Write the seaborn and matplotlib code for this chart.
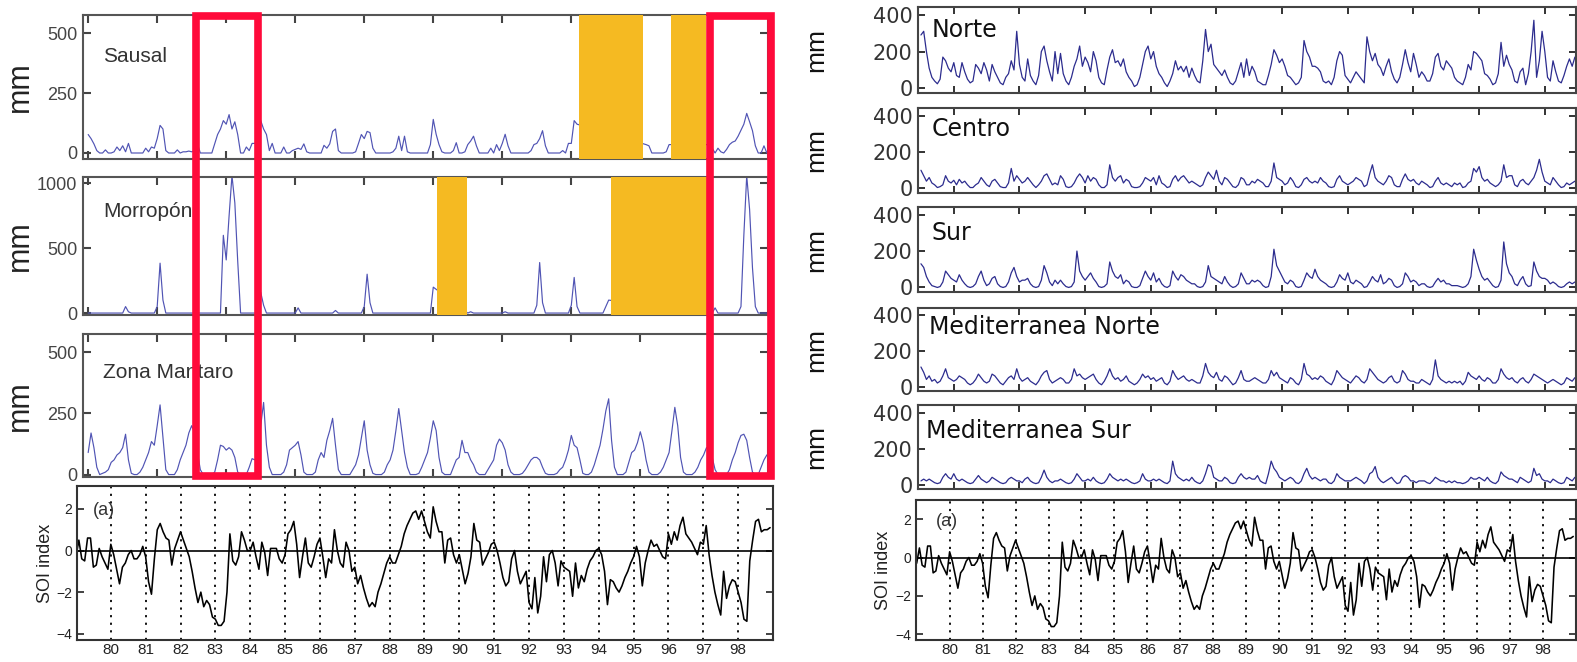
import numpy as np
import pandas as pd
import matplotlib
matplotlib.use("Agg")
import matplotlib.pyplot as plt
import matplotlib.transforms as mtransforms
from matplotlib.patches import Rectangle
import seaborn as sns

nan = np.nan

# ==========================================================
# Data - monthly values, Jan 1979 .. Dec 1998 (one row per year)
# ==========================================================

# Peru stations (mm)
sausal = [
    77, 60, 38, 10, 0, 0, 13, 0, 0, 5, 25, 10,
    30, 5, 40, 0, 0, 0, 0, 0, 20, 5, 25, 20,
    60, 115, 100, 10, 0, 0, 0, 13, 0, 5, 5, 8,
    5, 10, 38, 0, 0, 0, 0, 0, 38, 77, 100, 135,
    120, 160, 100, 130, 77, 0, 0, 25, 10, 40, 40, 30,
    135, 100, 77, 10, 40, 0, 0, 0, 25, 0, 0, 10,
    15, 20, 15, 38, 5, 0, 0, 0, 0, 0, 32, 20,
    38, 90, 100, 10, 0, 0, 0, 0, 0, 5, 40, 77,
    60, 90, 85, 20, 0, 0, 0, 0, 0, 0, 5, 20,
    70, 10, 70, 5, 0, 0, 0, 0, 0, 0, 0, 35,
    140, 78, 35, 5, 0, 0, 0, 10, 43, 0, 0, 5,
    35, 50, 70, 30, 0, 0, 0, 0, 20, 0, 35, 10,
    40, 78, 30, 0, 0, 0, 0, 0, 0, 0, 10, 35,
    40, 60, 93, 30, 0, 0, 0, 0, 0, 10, 0, 40,
    40, 135, 120, nan, nan, nan, nan, nan, nan, nan, nan, nan,
    nan, nan, nan, nan, nan, nan, nan, nan, nan, nan, nan, nan,
    nan, nan, 35, 30, 0, 0, 0, 0, 0, 5, 35, nan,
    nan, nan, nan, nan, nan, nan, nan, nan, nan, nan, nan, nan,
    35, 20, 0, 20, 5, 0, 15, 35, 45, 50, 70, 95,
    120, 165, 130, 93, 30, 0, 0, 30, 0, 0, 0, 0,
]

morropon = [
    0, 0, 0, 0, 0, 0, 0, 0, 0, 0, 0, 0,
    0, 50, 10, 0, 0, 0, 0, 0, 0, 0, 0, 0,
    50, 385, 100, 0, 0, 0, 0, 0, 0, 0, 0, 0,
    0, 0, 0, 0, 0, 0, 0, 0, 0, 0, 0, 600,
    410, 750, 1060, 850, 400, 0, 0, 0, 0, 0, 0, 0,
    160, 60, 0, 0, 0, 0, 0, 0, 0, 0, 0, 0,
    0, 40, 0, 0, 0, 0, 0, 0, 0, 0, 0, 0,
    0, 0, 20, 0, 0, 0, 0, 0, 0, 0, 0, 0,
    50, 300, 80, 0, 0, 0, 0, 0, 0, 0, 0, 0,
    0, 0, 0, 0, 0, 0, 0, 0, 0, 0, 0, 0,
    200, nan, nan, nan, nan, nan, nan, nan, nan, nan, nan, nan,
    0, 10, 0, 0, 0, 0, 0, 0, 0, 0, 0, 0,
    0, 10, 0, 0, 0, 0, 0, 0, 0, 0, 0, 0,
    60, 390, 80, 0, 0, 0, 0, 0, 0, 0, 0, 0,
    60, 275, 50, 0, 0, 0, 0, 0, 0, 0, 0, 0,
    50, 100, nan, nan, nan, nan, nan, nan, nan, nan, nan, nan,
    nan, nan, nan, nan, nan, nan, nan, nan, nan, nan, nan, nan,
    nan, nan, nan, nan, nan, nan, nan, nan, nan, nan, nan, nan,
    0, 0, 40, 0, 0, 0, 0, 0, 0, 0, 0, 50,
    600, 1060, 800, 350, 50, 0, 0, 0, 0, 0, 0, 0,
]

mantaro = [
    90, 170, 110, 30, 0, 5, 10, 20, 50, 60, 80, 90,
    110, 165, 60, 5, 0, 0, 10, 30, 60, 90, 135, 120,
    200, 285, 150, 20, 0, 0, 0, 20, 60, 90, 120, 170,
    200, 170, 90, 20, 0, 0, 0, 0, 10, 60, 120, 115,
    100, 110, 100, 70, 10, 0, 0, 0, 30, 65, 60, 70,
    200, 295, 120, 30, 0, 0, 0, 0, 10, 40, 100, 110,
    120, 135, 80, 10, 0, 0, 0, 10, 60, 90, 70, 140,
    180, 230, 120, 20, 0, 0, 0, 0, 20, 40, 80, 150,
    220, 100, 40, 5, 0, 0, 0, 10, 40, 60, 100, 180,
    270, 180, 90, 30, 0, 0, 0, 5, 30, 60, 90, 150,
    220, 180, 70, 10, 0, 0, 0, 30, 60, 70, 140, 90,
    90, 60, 40, 10, 0, 0, 0, 20, 40, 60, 120, 145,
    130, 100, 40, 10, 0, 0, 0, 5, 20, 40, 60, 70,
    70, 60, 30, 5, 0, 0, 0, 5, 20, 30, 60, 100,
    160, 120, 110, 60, 5, 0, 0, 10, 40, 80, 120, 185,
    260, 310, 140, 30, 0, 0, 0, 10, 50, 90, 100, 130,
    175, 130, 60, 10, 0, 0, 0, 10, 30, 60, 90, 180,
    275, 200, 70, 10, 0, 0, 0, 10, 30, 60, 80, 110,
    100, 70, 20, 0, 0, 0, 0, 20, 60, 90, 130, 160,
    165, 140, 70, 10, 0, 0, 30, 60, 80, 90, 100, 110,
]

# Spain regions (mm)
norte = [
    290, 310, 200, 110, 60, 40, 25, 50, 170, 150, 110, 90,
    140, 70, 60, 140, 90, 50, 30, 40, 130, 110, 80, 140,
    100, 40, 130, 90, 60, 30, 20, 60, 80, 150, 100, 310,
    130, 60, 40, 160, 70, 40, 20, 70, 200, 230, 150, 90,
    40, 200, 80, 190, 80, 40, 20, 60, 120, 160, 230, 120,
    170, 140, 90, 200, 150, 60, 30, 20, 100, 170, 210, 140,
    150, 120, 160, 90, 60, 40, 10, 20, 60, 130, 200, 230,
    160, 200, 120, 80, 60, 30, 10, 40, 80, 150, 100, 120,
    90, 120, 60, 110, 70, 40, 30, 150, 320, 200, 240, 130,
    110, 90, 70, 100, 60, 30, 20, 40, 90, 140, 60, 160,
    70, 120, 90, 40, 30, 20, 20, 70, 130, 210, 180, 140,
    160, 120, 70, 60, 40, 20, 30, 60, 260, 200, 170, 120,
    120, 110, 90, 40, 30, 40, 20, 60, 150, 200, 180, 70,
    50, 30, 60, 90, 70, 50, 30, 280, 200, 150, 190, 130,
    110, 70, 120, 160, 90, 50, 30, 60, 130, 210, 140, 90,
    190, 130, 60, 90, 70, 40, 40, 80, 170, 190, 120, 100,
    150, 130, 110, 60, 40, 30, 20, 60, 130, 100, 200, 190,
    170, 150, 80, 70, 50, 20, 30, 80, 250, 120, 180, 130,
    100, 40, 30, 90, 110, 20, 80, 200, 370, 60, 150, 310,
    200, 60, 40, 150, 90, 40, 30, 70, 120, 160, 120, 170,
]

centro = [
    100, 70, 40, 60, 30, 20, 5, 10, 20, 70, 40, 30,
    45, 20, 50, 30, 40, 20, 5, 5, 20, 30, 60, 40,
    20, 10, 40, 50, 30, 10, 5, 5, 30, 110, 40, 70,
    50, 30, 40, 60, 40, 20, 5, 20, 40, 70, 80, 50,
    20, 30, 20, 70, 50, 10, 5, 10, 30, 60, 80, 60,
    30, 70, 40, 60, 50, 20, 5, 5, 20, 130, 60, 40,
    60, 70, 30, 50, 40, 10, 5, 5, 10, 30, 60, 50,
    40, 60, 20, 70, 30, 20, 5, 10, 50, 70, 40, 60,
    70, 50, 30, 40, 30, 20, 10, 20, 60, 90, 70, 50,
    100, 40, 20, 60, 50, 30, 10, 5, 20, 60, 50, 20,
    20, 40, 30, 50, 40, 30, 10, 10, 40, 140, 60, 50,
    40, 20, 30, 60, 40, 10, 5, 20, 50, 60, 40, 30,
    40, 30, 60, 40, 30, 10, 5, 10, 50, 70, 40, 30,
    20, 30, 40, 60, 50, 40, 10, 20, 80, 130, 60, 40,
    30, 20, 40, 70, 60, 20, 10, 10, 50, 80, 50, 40,
    50, 30, 20, 40, 30, 20, 5, 10, 40, 60, 30, 20,
    30, 20, 10, 30, 20, 30, 5, 10, 30, 40, 110, 90,
    120, 60, 40, 50, 30, 20, 10, 20, 40, 130, 60, 70,
    70, 20, 10, 40, 50, 30, 20, 40, 60, 100, 160, 90,
    40, 30, 20, 60, 40, 20, 5, 10, 30, 20, 30, 40,
]

sur = [
    130, 110, 60, 30, 10, 5, 0, 5, 30, 90, 70, 50,
    40, 30, 70, 40, 20, 5, 0, 5, 20, 60, 90, 40,
    10, 20, 50, 60, 20, 5, 0, 5, 30, 80, 110, 60,
    30, 40, 40, 50, 20, 5, 0, 5, 40, 120, 80, 30,
    10, 40, 20, 40, 20, 5, 0, 5, 30, 200, 90, 60,
    40, 60, 80, 50, 30, 5, 0, 5, 20, 140, 90, 60,
    50, 70, 20, 40, 30, 5, 0, 0, 10, 50, 90, 60,
    40, 80, 30, 50, 20, 5, 0, 10, 90, 60, 40, 70,
    60, 40, 30, 20, 20, 5, 0, 5, 30, 120, 60, 50,
    40, 30, 20, 60, 30, 10, 0, 5, 20, 80, 50, 20,
    20, 40, 30, 40, 30, 10, 0, 5, 60, 210, 120, 90,
    60, 30, 20, 40, 30, 5, 0, 5, 40, 80, 60, 50,
    100, 60, 40, 30, 20, 5, 0, 5, 30, 70, 50, 40,
    80, 30, 20, 40, 30, 20, 0, 5, 30, 60, 40, 30,
    70, 20, 30, 50, 40, 10, 0, 5, 20, 80, 60, 30,
    40, 30, 10, 20, 20, 5, 0, 5, 30, 50, 30, 40,
    20, 20, 10, 10, 10, 5, 0, 5, 20, 60, 210, 150,
    100, 60, 40, 50, 30, 10, 0, 5, 40, 250, 130, 80,
    60, 20, 10, 40, 60, 20, 5, 10, 140, 90, 60, 50,
    50, 40, 20, 30, 20, 5, 0, 5, 20, 30, 20, 30,
]

med_norte = [
    110, 80, 40, 60, 30, 40, 20, 30, 60, 100, 50, 40,
    30, 40, 60, 50, 40, 20, 10, 20, 40, 70, 50, 30,
    20, 30, 70, 60, 40, 20, 10, 30, 50, 60, 40, 100,
    50, 30, 40, 50, 30, 20, 10, 30, 60, 80, 90, 40,
    20, 30, 40, 50, 40, 20, 20, 40, 100, 60, 70, 50,
    40, 50, 60, 70, 40, 20, 10, 30, 60, 100, 60, 40,
    50, 30, 40, 60, 30, 20, 10, 20, 40, 70, 50, 60,
    40, 50, 30, 40, 50, 20, 10, 30, 90, 60, 40, 50,
    60, 40, 30, 40, 30, 20, 20, 60, 130, 80, 60, 50,
    80, 40, 30, 60, 50, 30, 10, 20, 50, 90, 40, 30,
    30, 40, 50, 40, 30, 20, 20, 40, 90, 60, 80, 50,
    40, 30, 20, 50, 40, 20, 10, 40, 130, 70, 60, 40,
    50, 40, 60, 50, 30, 20, 10, 40, 90, 70, 50, 40,
    30, 20, 40, 60, 50, 30, 20, 40, 100, 80, 60, 40,
    30, 20, 30, 50, 60, 30, 20, 30, 90, 70, 40, 30,
    30, 20, 20, 40, 30, 20, 10, 40, 150, 60, 40, 30,
    20, 30, 20, 30, 20, 30, 10, 30, 80, 60, 50, 40,
    60, 40, 30, 50, 40, 20, 20, 40, 100, 70, 50, 40,
    50, 30, 20, 40, 50, 30, 20, 40, 70, 60, 50, 40,
    30, 20, 30, 40, 30, 20, 10, 20, 50, 40, 30, 50,
]

med_sur = [
    20, 30, 20, 30, 20, 10, 5, 10, 40, 60, 40, 30,
    60, 30, 20, 30, 20, 10, 5, 10, 30, 50, 30, 20,
    10, 20, 40, 30, 20, 10, 5, 10, 30, 40, 30, 20,
    20, 10, 30, 40, 20, 10, 5, 10, 40, 80, 40, 20,
    10, 20, 20, 30, 20, 10, 5, 10, 30, 60, 40, 20,
    20, 30, 20, 40, 20, 10, 5, 10, 30, 60, 40, 30,
    20, 30, 20, 30, 20, 10, 5, 10, 20, 60, 30, 20,
    20, 30, 20, 30, 20, 10, 5, 20, 130, 60, 40, 30,
    20, 30, 20, 40, 20, 10, 5, 20, 60, 110, 100, 40,
    30, 20, 20, 40, 30, 10, 5, 10, 40, 60, 40, 30,
    40, 30, 30, 50, 20, 10, 5, 60, 130, 90, 70, 40,
    30, 20, 30, 40, 30, 10, 5, 20, 60, 90, 50, 30,
    40, 30, 20, 30, 30, 10, 5, 20, 60, 40, 30, 20,
    20, 20, 30, 40, 30, 20, 5, 20, 60, 70, 100, 40,
    20, 10, 20, 30, 40, 20, 5, 10, 40, 50, 40, 20,
    20, 10, 20, 20, 20, 10, 5, 20, 40, 30, 20, 20,
    10, 20, 10, 20, 10, 10, 5, 10, 20, 40, 30, 30,
    40, 30, 20, 40, 20, 10, 5, 20, 70, 50, 40, 30,
    30, 20, 10, 40, 30, 20, 10, 20, 90, 50, 60, 30,
    20, 20, 10, 30, 20, 10, 5, 10, 40, 30, 20, 40,
]

# Southern Oscillation Index
soi = [
    -0.3, 0.5, -0.4, -0.5, 0.6, 0.6, -0.8, -0.7, 0.1, -0.3, -0.6, -0.9,
    0.3, -0.2, -0.9, -1.6, -0.8, -0.6, -0.2, 0.0, -0.4, -0.4, -0.2, 0.2,
    -0.3, -1.5, -2.1, -0.4, 1.0, 1.3, 0.9, 0.6, 0.5, -0.7, 0.1, 0.5,
    0.9, 0.5, 0.1, -0.3, -1.0, -1.8, -2.5, -2.0, -2.7, -2.4, -2.6, -3.2,
    -3.3, -3.6, -3.6, -3.4, -2.0, 0.8, -0.5, -0.7, -0.3, 0.9, 0.5, 0.0,
    0.0, 0.4, -0.3, -0.9, 0.4, -0.1, -1.2, 0.1, 0.1, 0.1, -0.4, -0.6,
    -0.2, 0.8, 1.0, 1.4, 0.3, -1.3, -0.3, 0.6, -0.6, -0.8, -0.3, 0.3,
    0.6, -0.3, -1.3, -0.4, -0.6, 1.0, 0.0, -0.6, -0.8, 0.4, 0.0, -1.0,
    -0.8, -1.6, -1.2, -1.8, -2.3, -2.7, -2.5, -2.7, -2.0, -1.6, -1.1, -0.6,
    -0.3, -0.6, -0.6, -0.2, 0.2, 0.8, 1.2, 1.5, 1.8, 1.9, 1.5, 1.9,
    1.4, 0.9, 0.6, 2.1, 1.4, 0.9, 0.9, -0.6, 0.5, 0.6, -0.2, -0.6,
    -0.2, -0.9, -1.6, -1.1, -0.3, 1.3, 0.5, 0.4, -0.7, -0.4, -0.1, 0.3,
    0.4, 0.0, -0.6, -1.3, -1.7, -1.5, -0.4, 0.0, -1.0, -1.6, -1.3, -1.0,
    -2.5, -2.8, -1.3, -3.0, -2.2, -0.3, -1.5, -0.2, 0.0, -0.6, -1.7, -0.5,
    -0.8, -0.9, -1.0, -2.2, -0.6, -1.8, -1.2, -1.5, -0.9, -0.5, -0.3, 0.0,
    0.1, -0.2, -1.0, -2.6, -1.4, -1.5, -1.8, -2.0, -1.7, -1.3, -1.0, -0.6,
    -0.3, 0.2, -0.3, -1.7, -0.6, 0.0, 0.5, 0.2, 0.3, 0.0, -0.3, -0.4,
    0.8, 0.3, 0.9, 0.5, 1.2, 1.6, 0.8, 0.6, 0.4, 0.1, -0.2, 0.4,
    0.3, 1.2, -0.2, -1.2, -2.0, -2.6, -3.1, -1.0, -2.3, -1.7, -1.4, -1.5,
    -2.0, -2.5, -3.3, -3.4, -0.5, 0.5, 1.4, 1.5, 0.9, 1.0, 1.0, 1.1,
]

# Periods without data (shaded) and El Nino highlight boxes (years)
sausal_gaps = [(1993.21, 1995.09), (1995.90, 1996.91)]
morropon_gaps = [(1989.12, 1989.99), (1994.16, 1997.0)]
nino_boxes = [(1982.12, 1983.92), (1997.03, 1998.79)]

soi_years = list(range(1980, 1999))
soi_labels = [str(y)[2:] for y in soi_years]

months = pd.date_range("1979-01-01", periods=240, freq="MS")
t = np.asarray(months.year + (months.month - 1) / 12.0)

# ==========================================================
# Style
# ==========================================================

sns.set_theme(style="white")
plt.rcParams["font.family"] = ["Liberation Sans", "DejaVu Sans"]

LEFT_BLUE = "#5054b4"
RIGHT_BLUE = "#2c2c8e"
ORANGE = "#F5BA22"
RED = "#FF0A3A"

W, H = 1577, 662
fig = plt.figure(figsize=(W / 100, H / 100), dpi=100)
fig.patch.set_facecolor("white")


def px_axes(x0, y0, x1, y1):
    return fig.add_axes([x0 / W, 1 - y1 / H, (x1 - x0) / W, (y1 - y0) / H])


def style_spines(ax, color):
    for s in ax.spines.values():
        s.set_color(color)
        s.set_linewidth(1.5)


# ==========================================================
# Left column - Peru
# ==========================================================

left_specs = [
    (px_axes(83, 15, 768, 159), sausal, "Sausal", (-25, 575), [0, 250, 500], sausal_gaps, 0.71),
    (px_axes(83, 177, 768, 315), morropon, "Morropón", (-15, 1050), [0, 500, 1000], morropon_gaps, 0.75),
    (px_axes(83, 334, 768, 477), mantaro, "Zona Mantaro", (-10, 575), [0, 250, 500], [], 0.73),
]

for ax, vals, name, ylim, yt, gaps, ty in left_specs:
    df = pd.DataFrame({"year": t, "mm": vals})
    sns.lineplot(data=df, x="year", y="mm", ax=ax, color=LEFT_BLUE, lw=0.85)
    for a, b in gaps:
        ax.axvspan(a, b, color=ORANGE, lw=0, zorder=3)
    ax.set_xlim(1978.85, 1998.7)
    ax.set_xticks(range(1979, 1999, 2))
    ax.set_ylim(ylim)
    ax.set_yticks(yt)
    ax.tick_params(direction="in", length=6, width=1.5, top=True, right=True,
                   bottom=True, left=True, labelbottom=False,
                   labelsize=13, labelcolor="#444", color="#444", pad=4)
    ax.set_xlabel("")
    ax.set_ylabel("mm", fontsize=22, color="#222")
    ax.yaxis.set_label_coords(-0.070, 0.5)
    ax.text(0.029, ty, name, transform=ax.transAxes, fontsize=15,
            color="#333", va="center", ha="left")
    style_spines(ax, "#555")

# ==========================================================
# Right column - Spain
# ==========================================================

right_specs = [
    (px_axes(918, 7, 1576, 93), norte, "Norte", 0.73, 0.02),
    (px_axes(918, 108, 1576, 193), centro, "Centro", 0.75, 0.02),
    (px_axes(918, 207, 1576, 292), sur, "Sur", 0.69, 0.02),
    (px_axes(918, 308, 1576, 391), med_norte, "Mediterranea Norte", 0.77, 0.016),
    (px_axes(918, 405, 1576, 489), med_sur, "Mediterranea Sur", 0.69, 0.012),
]

for ax, vals, name, ty, tx in right_specs:
    df = pd.DataFrame({"year": t, "mm": vals})
    sns.lineplot(data=df, x="year", y="mm", ax=ax, color=RIGHT_BLUE, lw=0.9)
    ax.set_xlim(1978.91, 1998.95)
    ax.set_xticks(range(1980, 1999, 2))
    ax.set_ylim(-25, 442)
    ax.set_yticks([0, 200, 400])
    ax.tick_params(direction="in", length=5, width=1.4, top=True, right=True,
                   bottom=True, left=True, labelbottom=False,
                   labelsize=15, labelcolor="#333", color="#333", pad=4)
    for lab in ax.get_yticklabels():
        lab.set_family("DejaVu Sans")
    ax.set_xlabel("")
    ax.set_ylabel("mm", fontsize=19, color="#111")
    ax.yaxis.set_label_coords(-0.1366, 0.5)
    ax.text(tx, ty, name, transform=ax.transAxes, fontsize=17,
            color="#111", va="center", ha="left", family="DejaVu Sans")
    style_spines(ax, "#444")

# ==========================================================
# SOI panels
# ==========================================================

soi_specs = [
    (px_axes(77, 486, 773, 640), (1979.03, 1999.0), (-4.3, 3.1), -0.033, 0.023, 0.84),
    (px_axes(916, 500, 1576, 640), (1978.98, 1999.0), (-4.3, 3.0), -0.036, 0.03, 0.85),
]

for ax, xlim, ylim, lx, ax_x, ax_y in soi_specs:
    df = pd.DataFrame({"year": t, "soi": soi})
    sns.lineplot(data=df, x="year", y="soi", ax=ax, color="black", lw=1.15)
    ax.axhline(0, color="black", lw=1.2)
    ax.set_xlim(xlim)
    ax.set_ylim(ylim)
    ax.set_xticks(soi_years)
    ax.set_xticklabels(soi_labels)
    ax.set_yticks([-4, -2, 0, 2])
    ax.grid(axis="x", color="black", linestyle=(0, (1.2, 3)), lw=1.3)
    ax.tick_params(axis="x", length=0, labelsize=11, labelcolor="#222", pad=2.5)
    ax.tick_params(axis="y", direction="in", length=5, width=1.2, left=True,
                   right=True, labelsize=10, labelcolor="#222", color="#222")
    ax.set_xlabel("")
    ax.set_ylabel("SOI index", fontsize=13, color="#222")
    ax.yaxis.set_label_coords(lx, 0.5)
    ax.text(ax_x, ax_y, "(a)", transform=ax.transAxes, fontsize=13,
            color="#333", va="center", ha="left")
    style_spines(ax, "#333")

# ==========================================================
# El Nino highlight boxes across the Peru panels
# ==========================================================

top_ax = left_specs[0][0]
box_tf = mtransforms.blended_transform_factory(top_ax.transData, fig.transFigure)
y_top = 1 - 15.5 / H
y_bot = 1 - 476 / H
for a, b in nino_boxes:
    rect = Rectangle((a, y_bot), b - a, y_top - y_bot, transform=box_tf,
                     fill=False, edgecolor=RED, lw=5.5, zorder=10,
                     clip_on=False, joinstyle="miter")
    fig.add_artist(rect)

fig.savefig("out.png", dpi=100, facecolor="white")
